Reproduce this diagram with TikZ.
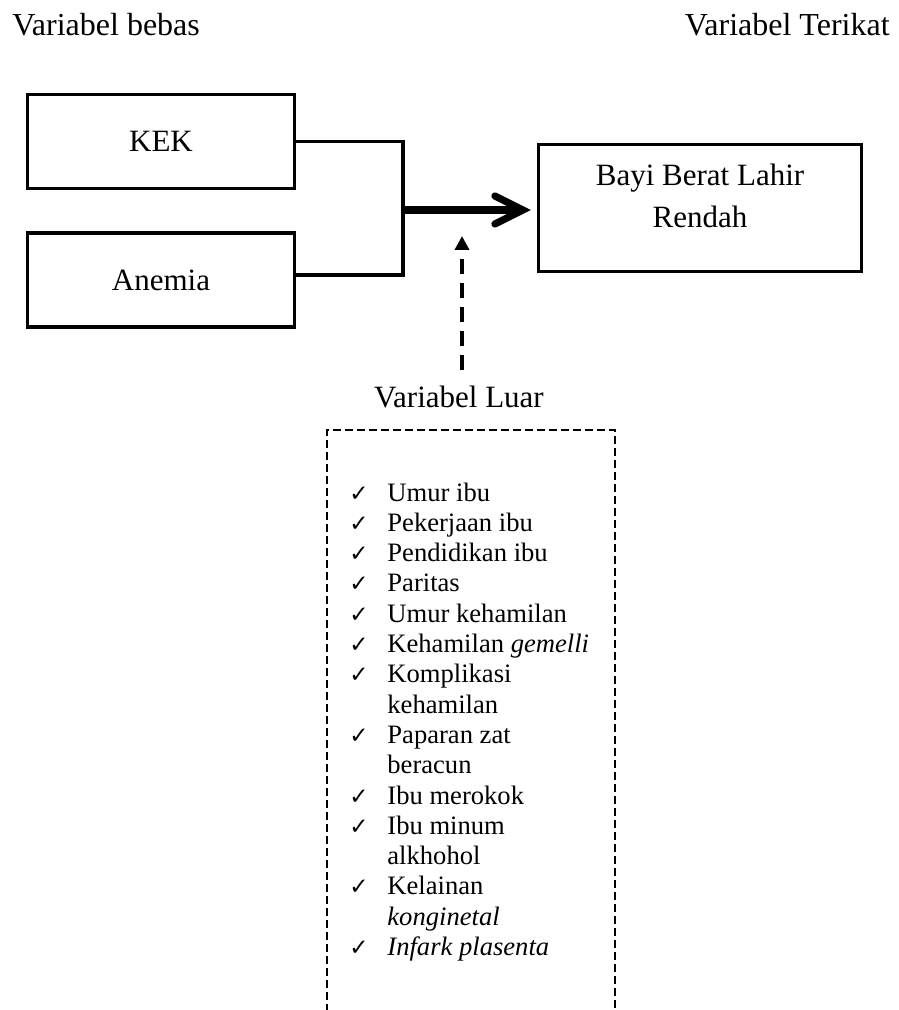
\documentclass[tikz,border=0pt]{standalone}
\usepackage{fontspec}
\setmainfont{Liberation Serif}
\newfontfamily\symfont{DejaVu Sans}
\usepackage{tikz}
\usetikzlibrary{arrows.meta,positioning,calc}

\begin{document}
\begin{tikzpicture}[x=0.5pt,y=-0.5pt,
  hdr/.style={inner sep=0pt,font=\fontsize{16}{19}\selectfont},
  lbl/.style={inner sep=0pt,font=\fontsize{15.5}{21}\selectfont},
  blk/.style={draw,line width=1.6pt,minimum width=133.5pt,minimum height=47pt,
              inner sep=0pt,font=\fontsize{15.5}{21}\selectfont},
  item/.style={anchor=base west,inner sep=0pt,font=\fontsize{13.3}{15}\selectfont},
  chk/.style={anchor=base west,inner sep=0pt,font=\symfont\fontsize{11.5}{13}\selectfont},
  conn/.style={line width=1.7pt},
  mainarr/.style={line width=3.6pt,-{Straight Barb[length=14pt,width=14pt,line cap=round]},shorten >=3pt},
  dasharr/.style={line width=2.3pt,dash pattern=on 7.5pt off 4.5pt,-{Triangle[length=7pt,width=7pt]}},
  dashbox/.style={line width=1.3pt,dash pattern=on 4pt off 2pt},
]
\useasboundingbox (0,0) rectangle (898,1010);
\node[hdr,anchor=base west] (bebas) at (12,36) {Variabel bebas};
\node[hdr,anchor=base east] (terikat) at (890,36) {Variabel Terikat};
\node[blk] (kek) at (161,141.5) {KEK};
\node[blk] (anemia) at (161,280) {Anemia};
\node[blk,minimum width=161.5pt,minimum height=63.5pt] (bblr) at (700,208) {};
\node[lbl,align=center] (bblrtxt) at (700,196) {Bayi Berat Lahir\\Rendah};
\coordinate (jn) at (403,210);
\draw[conn] (kek.east) -| (jn) |- ([yshift=2.5pt]anemia.east);
\draw[mainarr] (jn) -- (jn -| bblr.west);
\node[lbl,anchor=base] (luar) at (459,407) {Variabel Luar};
\coordinate (dstart) at (462,370);
\coordinate (dend) at (462,236);
\draw[dasharr] (dstart) -- (dend);
\draw[dashbox] (327,1012) |- (615,430) -- (615,1012);
\foreach \flag/\itm [count=\i from 0] in {1/Umur ibu,1/Pekerjaan ibu,1/Pendidikan ibu,1/Paritas,
  1/Umur kehamilan,1/{Kehamilan \textit{gemelli}},1/Komplikasi,0/kehamilan,1/Paparan zat,
  0/beracun,1/Ibu merokok,1/Ibu minum,0/alkhohol,1/Kelainan,0/\textit{konginetal},
  1/\textit{Infark plasenta}}{
  \node[item] (it\i) at (387,{501+30.3*\i}) {\itm};
  \ifnum\flag=1 \node[chk] (ck\i) at (349,{501+30.3*\i}) {✓};\fi
}
\end{tikzpicture}
\end{document}
